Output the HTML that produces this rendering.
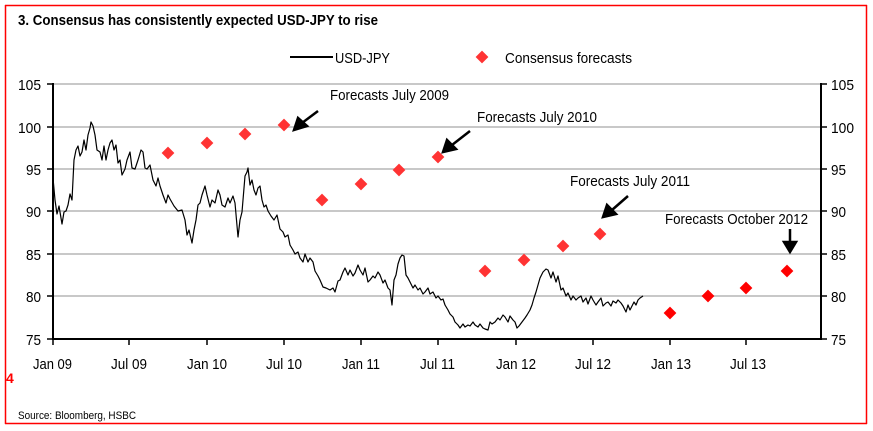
<!DOCTYPE html>
<html><head><meta charset="utf-8"><style>
body{margin:0;background:#fff;}
svg text{font-family:"Liberation Sans",sans-serif;}
</style></head><body>
<svg width="873" height="431" viewBox="0 0 873 431" xmlns="http://www.w3.org/2000/svg" style="display:block">
<line x1="5" y1="5.5" x2="867" y2="5.5" stroke="#f00" stroke-width="1.5"/>
<line x1="5.5" y1="5" x2="5.5" y2="424" stroke="#f00" stroke-width="1.5"/>
<line x1="866.5" y1="5" x2="866.5" y2="424" stroke="#f00" stroke-width="1.5"/>
<line x1="5" y1="423.5" x2="867" y2="423.5" stroke="#f00" stroke-width="1.5"/>
<text x="18" y="25" font-size="15" font-weight="bold" textLength="360" lengthAdjust="spacingAndGlyphs">3. Consensus has consistently expected USD-JPY to rise</text>
<line x1="290" y1="57" x2="333" y2="57" stroke="#000" stroke-width="2"/>
<text x="335" y="63" font-size="15" textLength="55" lengthAdjust="spacingAndGlyphs">USD-JPY</text>
<rect x="477.5" y="52.5" width="9" height="9" fill="#f33" transform="rotate(45 482 57)"/>
<text x="505" y="63" font-size="15" textLength="127" lengthAdjust="spacingAndGlyphs">Consensus forecasts</text>
<g stroke="#c8c8c8" stroke-width="2">
<line x1="53" y1="84" x2="821" y2="84"/><line x1="53" y1="127" x2="821" y2="127"/>
<line x1="53" y1="169" x2="821" y2="169"/><line x1="53" y1="211" x2="821" y2="211"/>
<line x1="53" y1="254" x2="821" y2="254"/><line x1="53" y1="296" x2="821" y2="296"/>
</g>
<g stroke="#000" stroke-width="2">
<line x1="53" y1="83" x2="53" y2="339"/><line x1="821" y1="83" x2="821" y2="339"/>
<line x1="52" y1="339" x2="822" y2="339"/>
</g>
<g stroke="#000" stroke-width="1.5">
<line x1="53" y1="339" x2="53" y2="345"/><line x1="129" y1="339" x2="129" y2="345"/><line x1="207" y1="339" x2="207" y2="345"/><line x1="284" y1="339" x2="284" y2="345"/><line x1="361" y1="339" x2="361" y2="345"/><line x1="438" y1="339" x2="438" y2="345"/><line x1="516" y1="339" x2="516" y2="345"/><line x1="593" y1="339" x2="593" y2="345"/><line x1="670" y1="339" x2="670" y2="345"/><line x1="746" y1="339" x2="746" y2="345"/>
<line x1="47" y1="84" x2="53" y2="84"/><line x1="47" y1="127" x2="53" y2="127"/><line x1="47" y1="169" x2="53" y2="169"/><line x1="47" y1="211" x2="53" y2="211"/><line x1="47" y1="254" x2="53" y2="254"/><line x1="47" y1="296" x2="53" y2="296"/><line x1="47" y1="339" x2="53" y2="339"/>
<line x1="821" y1="84" x2="827" y2="84"/><line x1="821" y1="127" x2="827" y2="127"/><line x1="821" y1="169" x2="827" y2="169"/><line x1="821" y1="211" x2="827" y2="211"/><line x1="821" y1="254" x2="827" y2="254"/><line x1="821" y1="296" x2="827" y2="296"/><line x1="821" y1="339" x2="827" y2="339"/>
</g>
<g font-size="15" text-anchor="end">
<text x="41" y="90" textLength="23" lengthAdjust="spacingAndGlyphs">105</text><text x="41" y="133" textLength="23" lengthAdjust="spacingAndGlyphs">100</text><text x="41" y="175" textLength="15" lengthAdjust="spacingAndGlyphs">95</text>
<text x="41" y="217" textLength="15" lengthAdjust="spacingAndGlyphs">90</text><text x="41" y="260" textLength="15" lengthAdjust="spacingAndGlyphs">85</text><text x="41" y="302" textLength="15" lengthAdjust="spacingAndGlyphs">80</text><text x="41" y="345" textLength="15" lengthAdjust="spacingAndGlyphs">75</text>
</g>
<g font-size="15">
<text x="831" y="90" textLength="23" lengthAdjust="spacingAndGlyphs">105</text><text x="831" y="133" textLength="23" lengthAdjust="spacingAndGlyphs">100</text><text x="831" y="175" textLength="15" lengthAdjust="spacingAndGlyphs">95</text>
<text x="831" y="217" textLength="15" lengthAdjust="spacingAndGlyphs">90</text><text x="831" y="260" textLength="15" lengthAdjust="spacingAndGlyphs">85</text><text x="831" y="302" textLength="15" lengthAdjust="spacingAndGlyphs">80</text><text x="831" y="345" textLength="15" lengthAdjust="spacingAndGlyphs">75</text>
</g>
<g font-size="15">
<text x="33" y="369" textLength="39" lengthAdjust="spacingAndGlyphs">Jan 09</text><text x="111" y="369" textLength="36" lengthAdjust="spacingAndGlyphs">Jul 09</text><text x="187" y="369" textLength="40" lengthAdjust="spacingAndGlyphs">Jan 10</text>
<text x="266" y="369" textLength="36" lengthAdjust="spacingAndGlyphs">Jul 10</text><text x="342" y="369" textLength="38" lengthAdjust="spacingAndGlyphs">Jan 11</text><text x="420" y="369" textLength="35" lengthAdjust="spacingAndGlyphs">Jul 11</text>
<text x="496" y="369" textLength="40" lengthAdjust="spacingAndGlyphs">Jan 12</text><text x="575" y="369" textLength="36" lengthAdjust="spacingAndGlyphs">Jul 12</text><text x="651" y="369" textLength="40" lengthAdjust="spacingAndGlyphs">Jan 13</text>
<text x="730" y="369" textLength="36" lengthAdjust="spacingAndGlyphs">Jul 13</text>
</g>
<text x="6" y="383" font-size="14" font-weight="bold" fill="#f00">4</text>
<text x="18" y="419" font-size="11" textLength="118" lengthAdjust="spacingAndGlyphs">Source: Bloomberg, HSBC</text>
<polyline fill="none" stroke="#000" stroke-width="1.2" stroke-linejoin="round" points="53,178 55,200 57,214 59,206 62,224 64,212 66,211 68,205 70,194 72,200 74,160 76,150 78,146 80,156 82,152 84,140 86,150 88,135 90,128 91,122 93,126 95,135 97,150 100,152 102,160 104,146 106,160 108,150 110,143 112,140 114,150 116,145 118,163 120,160 122,175 125,169 127,160 130,152 132,168 135,169 138,160 141,150 143,152 145,168 147,169 150,165 153,180 156,186 158,178 160,186 163,195 166,203 168,195 170,199 174,206 178,211 182,210 185,220 187,235 189,230 192,243 194,230 196,220 198,205 200,203 202,195 205,186 207,195 210,207 212,200 215,203 218,190 220,195 222,205 225,207 228,198 230,203 233,196 235,203 238,237 240,220 242,212 245,176 247,172 248,168 250,185 252,180 254,190 256,195 258,188 260,186 262,200 264,207 266,205 268,211 271,216 274,220 277,215 280,229 283,232 285,237 288,235 290,245 293,250 295,254 298,252 300,258 303,262 305,254 308,262 310,258 313,262 315,271 318,276 320,280 323,287 326,288 330,290 333,288 335,292 338,281 340,280 343,272 345,268 348,275 350,270 353,276 355,273 358,265 360,270 363,275 365,268 368,282 370,280 373,276 375,278 378,272 380,275 383,283 385,280 388,288 390,290 392,305 394,280 396,275 398,264 400,258 402,255 404,256 406,275 408,278 410,282 413,288 415,285 418,290 420,288 423,294 425,292 428,288 430,294 433,292 436,298 438,296 441,300 443,299 445,305 448,310 450,314 453,317 455,322 458,325 460,328 463,324 465,327 468,325 470,326 473,322 475,325 478,327 480,324 483,328 485,329 488,330 490,322 492,324 495,322 498,318 500,320 503,315 505,317 508,322 510,316 513,320 515,322 517,328 519,326 522,322 525,318 527,315 530,310 532,305 534,298 536,292 538,285 540,278 543,272 546,269 548,270 551,278 553,272 556,282 558,276 561,290 563,288 566,296 568,293 571,300 573,296 576,300 578,298 581,296 583,302 586,298 588,304 591,296 593,300 596,305 598,302 601,298 603,306 606,303 608,302 611,306 613,301 616,303 618,300 621,303 623,306 626,312 628,305 630,310 632,306 634,302 636,305 638,300 640,298 643,296"/>
<g fill="#f33">
<rect x="163.5" y="148.5" width="9" height="9" transform="rotate(45 168 153)"/>
<rect x="202.5" y="138.5" width="9" height="9" transform="rotate(45 207 143)"/>
<rect x="240.5" y="129.5" width="9" height="9" transform="rotate(45 245 134)"/>
<rect x="279.5" y="120.5" width="9" height="9" transform="rotate(45 284 125)"/>
<rect x="317.5" y="195.5" width="9" height="9" transform="rotate(45 322 200)"/>
<rect x="356.5" y="179.5" width="9" height="9" transform="rotate(45 361 184)"/>
<rect x="394.5" y="165.5" width="9" height="9" transform="rotate(45 399 170)"/>
<rect x="433.5" y="152.5" width="9" height="9" transform="rotate(45 438 157)"/>
<rect x="480.5" y="266.5" width="9" height="9" transform="rotate(45 485 271)"/>
<rect x="519.5" y="255.5" width="9" height="9" transform="rotate(45 524 260)"/>
<rect x="558.5" y="241.5" width="9" height="9" transform="rotate(45 563 246)"/>
<rect x="595.5" y="229.5" width="9" height="9" transform="rotate(45 600 234)"/>
</g>
<g fill="#f00">
<rect x="665.5" y="308.5" width="9" height="9" transform="rotate(45 670 313)"/>
<rect x="703.5" y="291.5" width="9" height="9" transform="rotate(45 708 296)"/>
<rect x="741.5" y="283.5" width="9" height="9" transform="rotate(45 746 288)"/>
<rect x="782.5" y="266.5" width="9" height="9" transform="rotate(45 787 271)"/>
</g>
<g font-size="15">
<text x="330" y="100" textLength="119" lengthAdjust="spacingAndGlyphs">Forecasts July 2009</text>
<text x="477" y="122" textLength="120" lengthAdjust="spacingAndGlyphs">Forecasts July 2010</text>
<text x="570" y="186" textLength="120" lengthAdjust="spacingAndGlyphs">Forecasts July 2011</text>
<text x="665" y="224" textLength="143" lengthAdjust="spacingAndGlyphs">Forecasts October 2012</text>
</g>
<g stroke="#000" stroke-width="2.5" fill="#000">
<line x1="318" y1="111" x2="302" y2="123"/><polygon points="294,130 298,118 307,126"/>
<line x1="470" y1="131" x2="452" y2="145"/><polygon points="443,152 447,140 456,149"/>
<line x1="628" y1="196" x2="612" y2="210"/><polygon points="603,217 607,205 616,214"/>
<line x1="790" y1="229" x2="790" y2="243"/><polygon points="784,242 796,242 790,252"/>
</g>
</svg>
</body></html>
